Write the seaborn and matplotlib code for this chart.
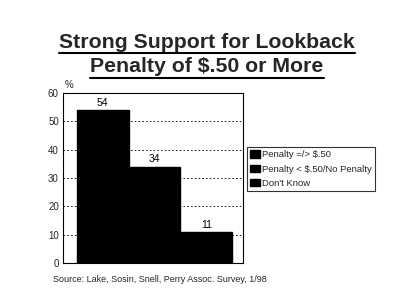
import matplotlib
matplotlib.use("Agg")
import matplotlib.pyplot as plt
import seaborn as sns
import pandas as pd

categories = ["Penalty =/> $.50", "Penalty < $.50/No Penalty", "Don't Know"]
values = [54, 34, 11]
yticks = [0, 10, 20, 30, 40, 50, 60]

sns.set_theme(style="white")
plt.rcParams['font.family'] = ['Liberation Sans', 'DejaVu Sans']

df = pd.DataFrame({"cat": categories, "val": values})

fig = plt.figure(figsize=(4.0, 3.04), dpi=100)
ax = fig.add_axes([63/400, 1-263/304, 180/400, 170/304])

sns.barplot(data=df, x="cat", y="val", hue="cat", palette=["#000000"]*3,
            width=1.0, ax=ax, legend=False, saturation=1, edgecolor="black")
ax.set_xlim(-0.77, 2.71)
ax.set_ylim(0, 60)
ax.set_yticks(yticks)
ax.set_yticklabels([str(t) for t in yticks], fontsize=7)
ax.set_xticks([])
ax.set_xlabel("")
ax.set_ylabel("")
ax.tick_params(axis='y', length=0, pad=3)
for s in ax.spines.values():
    s.set_color("black")
    s.set_linewidth(0.8)
ax.set_axisbelow(True)
for t in yticks[1:-1]:
    ax.axhline(t, color="black", linestyle=(0, (2, 2.5)), linewidth=0.6, zorder=0)

for i, v in enumerate(values):
    ax.text(i, v + 0.8, str(v), ha="center", va="bottom", fontsize=7.5, color="black")

ax.text(0.01, 1.02, "%", transform=ax.transAxes, fontsize=7, ha="left", va="bottom")

from matplotlib.patches import Patch
handles = [Patch(facecolor="black", edgecolor="black") for _ in categories]
leg = ax.legend(handles, categories, loc="upper left", bbox_to_anchor=(247/400, 1-147/304),
                bbox_transform=fig.transFigure, fontsize=6.8, frameon=True, fancybox=False,
                handlelength=1.0, handleheight=0.8, handletextpad=0.2, borderpad=0.35,
                labelspacing=0.55, borderaxespad=0)
leg.get_frame().set_edgecolor("black")
leg.get_frame().set_linewidth(0.8)

t1 = fig.text(207/400, 1-43/304, "Strong Support for Lookback", ha="center", va="center",
              fontsize=15.3, fontweight="bold")
t2 = fig.text(207/400, 1-67/304, "Penalty of $.50 or More", ha="center", va="center",
              fontsize=15.3, fontweight="bold")
fig.canvas.draw()
r = fig.canvas.get_renderer()
for t, uy in [(t1, 53), (t2, 78)]:
    bb = t.get_window_extent(r).transformed(fig.transFigure.inverted())
    fig.add_artist(plt.Line2D([bb.x0, bb.x1], [1-uy/304]*2, color="black", linewidth=1.5,
                              transform=fig.transFigure))

fig.text(53/400, 1-280/304, "Source: Lake, Sosin, Snell, Perry Assoc. Survey, 1/98",
         fontsize=6.5, ha="left", va="center")

fig.savefig("out.png", dpi=100)
